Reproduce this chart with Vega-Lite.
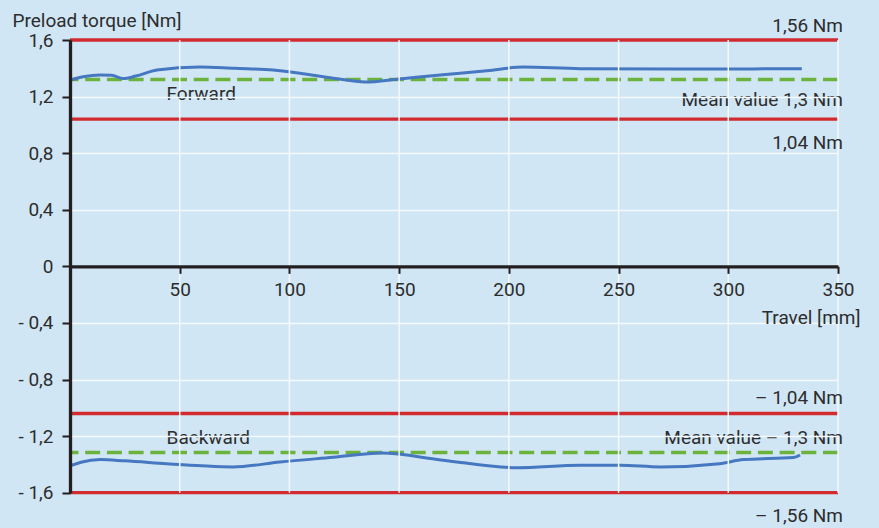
{
  "$schema": "https://vega.github.io/schema/vega-lite/v6.json",
  "width": 768,
  "height": 452.7,
  "autosize": "none",
  "padding": {"left": 70, "top": 40, "right": 41, "bottom": 35.3},
  "background": "#d0e6f5",
  "config": {
    "view": {"stroke": null},
    "font": "Roboto",
    "text": {"font": "Roboto", "fontSize": 19, "color": "#2d2d2d"},
    "axis": {
      "grid": false,
      "titleFont": "Roboto",
      "titleFontSize": 19,
      "titleFontWeight": "normal",
      "titleColor": "#2d2d2d",
      "labelFont": "Roboto",
      "labelFontSize": 19,
      "labelColor": "#2d2d2d",
      "labelOverlap": false,
      "labelFlush": false,
      "tickWidth": 2,
      "tickColor": "#231f20",
      "domainColor": "#231f20",
      "domainWidth": 3.3
    },
    "axisX": {
      "offset": -226.35,
      "titleAlign": "right",
      "titleBaseline": "alphabetic",
      "titleAnchor": "start",
      "titleX": 790,
      "titleY": 57.3,
      "labelPadding": 7,
      "tickSize": 7
    },
    "axisY": {
      "titleAngle": 0,
      "titleAlign": "left",
      "titleBaseline": "alphabetic",
      "titleX": -58,
      "titleY": -14,
      "labelPadding": 9,
      "tickSize": 8
    }
  },
  "datasets": {
    "gridX": [{"x": 50}, {"x": 100}, {"x": 150}, {"x": 200}, {"x": 250}, {"x": 300}, {"x": 350}],
    "curves": [
      {"series": "Forward", "x": 0, "y": 1.316},
      {"series": "Forward", "x": 6, "y": 1.34},
      {"series": "Forward", "x": 13.7, "y": 1.353},
      {"series": "Forward", "x": 19, "y": 1.35},
      {"series": "Forward", "x": 24.2, "y": 1.327},
      {"series": "Forward", "x": 30, "y": 1.345},
      {"series": "Forward", "x": 39.6, "y": 1.388},
      {"series": "Forward", "x": 59.2, "y": 1.41},
      {"series": "Forward", "x": 75, "y": 1.4},
      {"series": "Forward", "x": 92.6, "y": 1.388},
      {"series": "Forward", "x": 104.8, "y": 1.365},
      {"series": "Forward", "x": 120, "y": 1.33},
      {"series": "Forward", "x": 134.5, "y": 1.303},
      {"series": "Forward", "x": 150, "y": 1.325},
      {"series": "Forward", "x": 170, "y": 1.355},
      {"series": "Forward", "x": 190, "y": 1.383},
      {"series": "Forward", "x": 206.6, "y": 1.409},
      {"series": "Forward", "x": 232.5, "y": 1.397},
      {"series": "Forward", "x": 280, "y": 1.395},
      {"series": "Forward", "x": 333.5, "y": 1.397},
      {"series": "Backward", "x": 0.8, "y": -1.406},
      {"series": "Backward", "x": 5, "y": -1.385},
      {"series": "Backward", "x": 13.7, "y": -1.366},
      {"series": "Backward", "x": 25, "y": -1.375},
      {"series": "Backward", "x": 44, "y": -1.395},
      {"series": "Backward", "x": 60, "y": -1.41},
      {"series": "Backward", "x": 74.4, "y": -1.418},
      {"series": "Backward", "x": 95.7, "y": -1.383},
      {"series": "Backward", "x": 120, "y": -1.35},
      {"series": "Backward", "x": 142, "y": -1.32},
      {"series": "Backward", "x": 170, "y": -1.37},
      {"series": "Backward", "x": 203.6, "y": -1.423},
      {"series": "Backward", "x": 232.5, "y": -1.406},
      {"series": "Backward", "x": 250.7, "y": -1.406},
      {"series": "Backward", "x": 269, "y": -1.418},
      {"series": "Backward", "x": 296, "y": -1.395},
      {"series": "Backward", "x": 306.9, "y": -1.366},
      {"series": "Backward", "x": 329.7, "y": -1.352},
      {"series": "Backward", "x": 332.7, "y": -1.333}
    ],
    "limits": [{"y": 1.6}, {"y": 1.04}, {"y": -1.04}, {"y": -1.6}],
    "means": [{"y": 1.32}, {"y": -1.315}],
    "rightLabels": [
      {"x": 350, "y": 1.70, "t": "1,56 Nm"},
      {"x": 350, "y": 1.173, "t": "Mean value 1,3 Nm"},
      {"x": 350, "y": 0.869, "t": "1,04 Nm"},
      {"x": 350, "y": -0.93, "t": "– 1,04 Nm"},
      {"x": 350, "y": -1.212, "t": "Mean value – 1,3 Nm"},
      {"x": 350, "y": -1.763, "t": "– 1,56 Nm"}
    ],
    "curveLabels": [
      {"x": 44, "y": 1.217, "t": "Forward"},
      {"x": 44, "y": -1.212, "t": "Backward"}
    ]
  },
  "layer": [
    {
      "data": {"name": "limits"},
      "mark": {"type": "rule", "color": "#d32a30", "strokeWidth": 3.3},
      "encoding": {
        "y": {"field": "y", "type": "quantitative", "title": "Preload torque [Nm]", "scale": {"domain": [-1.6, 1.6], "nice": false, "zero": false}}
      }
    },
    {
      "data": {"name": "means"},
      "mark": {"type": "rule", "color": "#6cb33e", "strokeWidth": 3.5, "strokeDash": [15, 6.7]},
      "encoding": {
        "y": {"field": "y", "type": "quantitative", "title": "Preload torque [Nm]"}
      }
    },
    {
      "data": {"name": "curves"},
      "mark": {"type": "line", "color": "#4677c1", "strokeWidth": 3, "interpolate": "monotone"},
      "encoding": {
        "x": {
          "field": "x",
          "type": "quantitative",
          "title": "Travel [mm]",
          "scale": {"domain": [0, 350], "nice": false, "zero": false},
          "axis": {"values": [50, 100, 150, 200, 250, 300, 350], "zindex": 2}
        },
        "y": {
          "field": "y",
          "type": "quantitative",
          "title": "Preload torque [Nm]",
          "scale": {"domain": [-1.6, 1.6], "nice": false, "zero": false},
          "axis": {
            "values": [-1.6, -1.2, -0.8, -0.4, 0, 0.4, 0.8, 1.2, 1.6],
            "labelExpr": "datum.value == 0 ? '0' : (datum.value < 0 ? '- ' : '') + replace(format(abs(datum.value), '.1f'), '.', ',')",
            "grid": true,
            "gridColor": "#f4f9fd",
            "gridWidth": 1.5,
            "gridOpacity": {"condition": {"test": "abs(datum.value) > 1.5 || datum.value == 0", "value": 0}, "value": 1},
            "zindex": 1
          }
        },
        "detail": {"field": "series", "type": "nominal"}
      }
    },
    {
      "data": {"name": "gridX"},
      "mark": {"type": "rule", "stroke": "#f4f9fd", "strokeWidth": 1.5},
      "encoding": {
        "x": {"field": "x", "type": "quantitative", "title": "Travel [mm]"}
      }
    },
    {
      "data": {"name": "rightLabels"},
      "mark": {"type": "text", "align": "right", "baseline": "middle", "dx": 5},
      "encoding": {
        "x": {"field": "x", "type": "quantitative", "title": "Travel [mm]"},
        "y": {"field": "y", "type": "quantitative", "title": "Preload torque [Nm]"},
        "text": {"field": "t", "type": "nominal"}
      }
    },
    {
      "data": {"name": "curveLabels"},
      "mark": {"type": "text", "align": "left", "baseline": "middle"},
      "encoding": {
        "x": {"field": "x", "type": "quantitative", "title": "Travel [mm]"},
        "y": {"field": "y", "type": "quantitative", "title": "Preload torque [Nm]"},
        "text": {"field": "t", "type": "nominal"}
      }
    }
  ]
}
